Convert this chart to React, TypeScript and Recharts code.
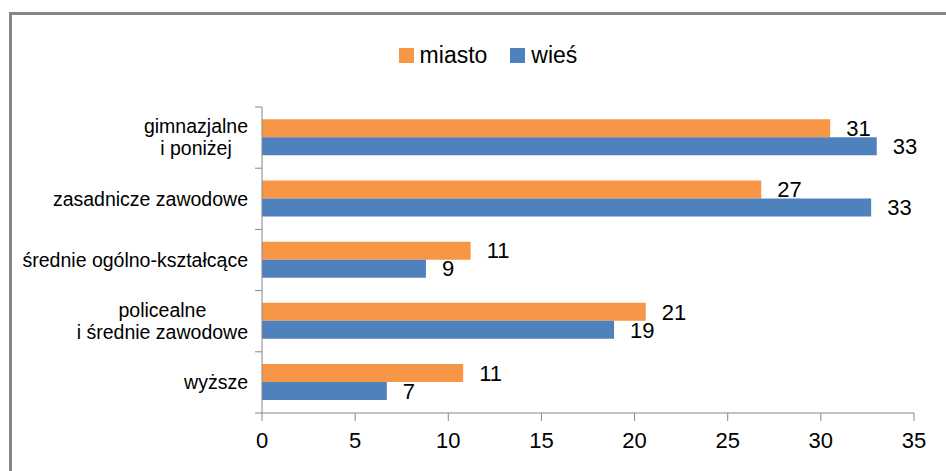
import React from 'react';
import { BarChart, Bar, XAxis, YAxis, Legend, LabelList } from 'recharts';

// categories top to bottom, values in percent
const categories = [
  'gimnazjalne\ni poniżej',
  'zasadnicze zawodowe',
  'średnie ogólno-kształcące',
  'policealne\ni średnie zawodowe',
  'wyższe',
];
const miasto = [30.5, 26.8, 11.2, 20.6, 10.8];
const wies = [33.0, 32.7, 8.8, 18.9, 6.7];
const xTicks = [0, 5, 10, 15, 20, 25, 30, 35];

const ORANGE = '#F79646';
const BLUE = '#4F81BD';
const AXIS = '#868686';
const FONT = '"Liberation Sans", Arial, sans-serif';

const data = categories.map((name, i) => ({ name, miasto: miasto[i], wies: wies[i] }));

let ctx: CanvasRenderingContext2D | null = null;
function textWidth(text: string, font: string) {
  if (!ctx) ctx = document.createElement('canvas').getContext('2d');
  if (!ctx) return text.length * 10;
  ctx.font = font;
  return ctx.measureText(text).width;
}

const CAT_SIZE = 19.5;
const LINE_H = 22;
const TICK_MARGIN = 14;
const TICK_LEN = 7;

// label plus a small tick at the band's edges (Excel style)
function CategoryTick(props: any) {
  const { x, y, payload, index } = props;
  const lines: string[] = String(payload.value).split('\n');
  const font = `${CAT_SIZE}px "Liberation Sans"`;
  const blockW = Math.max(...lines.map((l) => textWidth(l, font)));
  const cx = x - blockW / 2;
  const startY = y - ((lines.length - 1) * LINE_H) / 2;
  const axisX = x + TICK_MARGIN;
  const half = Number(payload.offset) || 0;
  const last = index === categories.length - 1;
  return (
    <g>
      <line x1={axisX - TICK_LEN} x2={axisX} y1={y - half} y2={y - half} stroke={AXIS} />
      {last && <line x1={axisX - TICK_LEN} x2={axisX} y1={y + half} y2={y + half} stroke={AXIS} />}
      <text fontFamily={FONT} fontSize={CAT_SIZE} fill="#000" textAnchor="middle">
        {lines.map((l, i) => (
          <tspan key={i} x={cx} y={startY + i * LINE_H} dy="0.35em">
            {l}
          </tspan>
        ))}
      </text>
    </g>
  );
}

function LegendContent() {
  const items = [
    { label: 'miasto', color: ORANGE },
    { label: 'wieś', color: BLUE },
  ];
  return (
    <div
      style={{
        display: 'flex',
        justifyContent: 'center',
        alignItems: 'center',
        height: 50,
        fontFamily: FONT,
        fontSize: 23,
        color: '#000',
      }}
    >
      {items.map((it, i) => (
        <div key={it.label} style={{ display: 'flex', alignItems: 'center', marginLeft: i ? 23 : 0 }}>
          <span style={{ width: 15, height: 15, background: it.color, marginRight: 6, display: 'inline-block' }} />
          <span>{it.label}</span>
        </div>
      ))}
    </div>
  );
}

export default function App() {
  return (
    <div style={{ position: 'fixed', left: 0, top: 0, width: 946, height: 471, overflow: 'hidden', background: '#fff' }}>
      <div
        style={{
          position: 'absolute',
          left: 9,
          top: 12,
          width: 1000,
          height: 600,
          border: `3px solid ${AXIS}`,
        }}
      />
      <div style={{ position: 'absolute', left: 0, top: 0 }}>
        <BarChart
          width={946}
          height={471}
          data={data}
          layout="vertical"
          margin={{ top: 30, right: 32, bottom: 0, left: 0 }}
          barCategoryGap="20%"
          barGap={0}
        >
          <Legend
            verticalAlign="top"
            content={<LegendContent />}
            wrapperStyle={{ left: 15, width: 946, height: 77 }}
          />
          <XAxis
            type="number"
            domain={[0, 35]}
            ticks={xTicks}
            height={58}
            stroke={AXIS}
            tickSize={8}
            tickMargin={11}
            tick={{ fill: '#000', fontSize: 22, fontFamily: FONT }}
          />
          <YAxis
            type="category"
            dataKey="name"
            width={262}
            stroke={AXIS}
            tickLine={false}
            tickSize={0}
            tickMargin={TICK_MARGIN}
            interval={0}
            tick={<CategoryTick />}
          />
          <Bar dataKey="miasto" name="miasto" fill={ORANGE} isAnimationActive={false}>
            <LabelList
              dataKey="miasto"
              position="right"
              offset={16}
              formatter={(v: any) => Math.round(Number(v))}
              style={{ fill: '#000', fontSize: 22, fontFamily: FONT }}
            />
          </Bar>
          <Bar dataKey="wies" name="wieś" fill={BLUE} isAnimationActive={false}>
            <LabelList
              dataKey="wies"
              position="right"
              offset={16}
              formatter={(v: any) => Math.round(Number(v))}
              style={{ fill: '#000', fontSize: 22, fontFamily: FONT }}
            />
          </Bar>
        </BarChart>
      </div>
    </div>
  );
}
